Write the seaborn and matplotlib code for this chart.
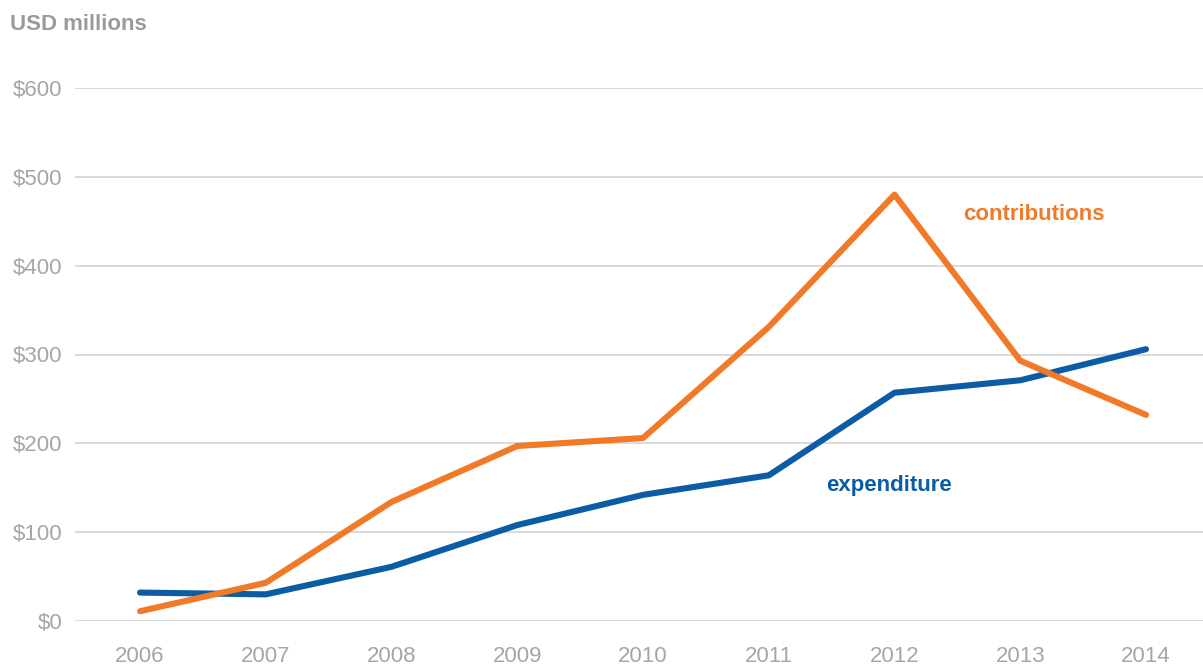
import matplotlib
matplotlib.use("Agg")
import matplotlib.pyplot as plt
import seaborn as sns
import pandas as pd

years = [2006, 2007, 2008, 2009, 2010, 2011, 2012, 2013, 2014]
contributions = [11, 43, 134, 197, 206, 331, 480, 293, 232]
expenditure = [32, 30, 61, 108, 142, 164, 257, 271, 306]
y_ticks = [0, 100, 200, 300, 400, 500, 600]
y_tick_labels = ["$0", "$100", "$200", "$300", "$400", "$500", "$600"]

sns.set_theme(style="white")
plt.rcParams['font.family'] = ['Liberation Sans', 'DejaVu Sans']

orange = "#F07A28"
blue = "#0B5CA4"
gray = "#A6A6A6"

df = pd.DataFrame({
    "year": years * 2,
    "value": contributions + expenditure,
    "series": ["contributions"] * len(years) + ["expenditure"] * len(years),
})

fig = plt.figure(figsize=(12.03, 6.68), dpi=100)
ax = fig.add_axes([75 / 1203, 47 / 668, 1 - 75 / 1203, (621 - 88) / 668])

for yv in y_ticks:
    ax.axhline(yv, color="#D3D3D3", lw=1.2, zorder=0)

sns.lineplot(data=df, x="year", y="value", hue="series",
             palette={"contributions": orange, "expenditure": blue},
             hue_order=["expenditure", "contributions"],
             linewidth=4.4, ax=ax, legend=False, clip_on=False)

ax.set_xlim(2005.483, 2014.453)
ax.set_ylim(0, 600)
ax.set_xticks(years)
ax.set_xticklabels([str(y) for y in years])
ax.set_yticks(y_ticks)
ax.set_yticklabels(y_tick_labels)
ax.tick_params(axis="x", length=0, pad=18, labelsize=16, labelcolor=gray)
ax.tick_params(axis="y", length=0, pad=9, labelsize=16, labelcolor=gray)
ax.set_xlabel("")
ax.set_ylabel("")
for s in ax.spines.values():
    s.set_visible(False)

ax.text(2012.545, 458, "contributions", color=orange, fontsize=16,
        fontweight="bold", ha="left", va="center")
ax.text(2011.455, 153, "expenditure", color=blue, fontsize=16,
        fontweight="bold", ha="left", va="center")

fig.text(10 / 1203, 1 - 25 / 668, "USD millions", color="#9A9A9A", fontsize=16,
         fontweight="bold", ha="left", va="center")

fig.savefig("out.png", dpi=100)
